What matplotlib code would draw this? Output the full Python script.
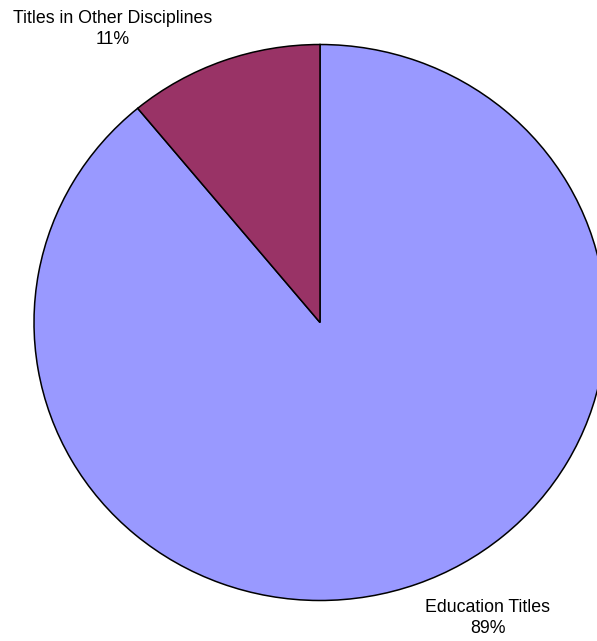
import matplotlib
matplotlib.use("Agg")
import matplotlib.pyplot as plt

# Share of titles by discipline
categories = ["Education Titles", "Titles in Other Disciplines"]
values = [89, 11]
colors = ["#9999FF", "#993366"]

plt.rcParams["font.family"] = ["Liberation Sans", "DejaVu Sans"]

W, H = 597, 641
fig = plt.figure(figsize=(W / 100, H / 100), dpi=100)

# Axes box in pixels: the pie fills it, slightly wider than tall
left_px, right_px, top_px, bottom_px = 34, 606, 44.5, 600.5
ax = fig.add_axes([left_px / W, (H - bottom_px) / H,
                   (right_px - left_px) / W, (bottom_px - top_px) / H])

wedges, _ = ax.pie(values, colors=colors, startangle=90, counterclock=False,
                   radius=1.0,
                   wedgeprops=dict(edgecolor="black", linewidth=1.1))
ax.set_aspect("auto")
ax.set_xlim(-1, 1)
ax.set_ylim(-1, 1)
ax.axis("off")

# Category labels with percentages
label_pos = {"Titles in Other Disciplines": (113, 29),
             "Education Titles": (488, 618)}
for name, val in zip(categories, values):
    x, y = label_pos[name]
    fig.text(x / W, 1 - y / H, f"{name}\n{val}%", ha="center", va="center",
             fontsize=12.8, color="black", linespacing=1.32)

fig.savefig("out.png", dpi=100)
